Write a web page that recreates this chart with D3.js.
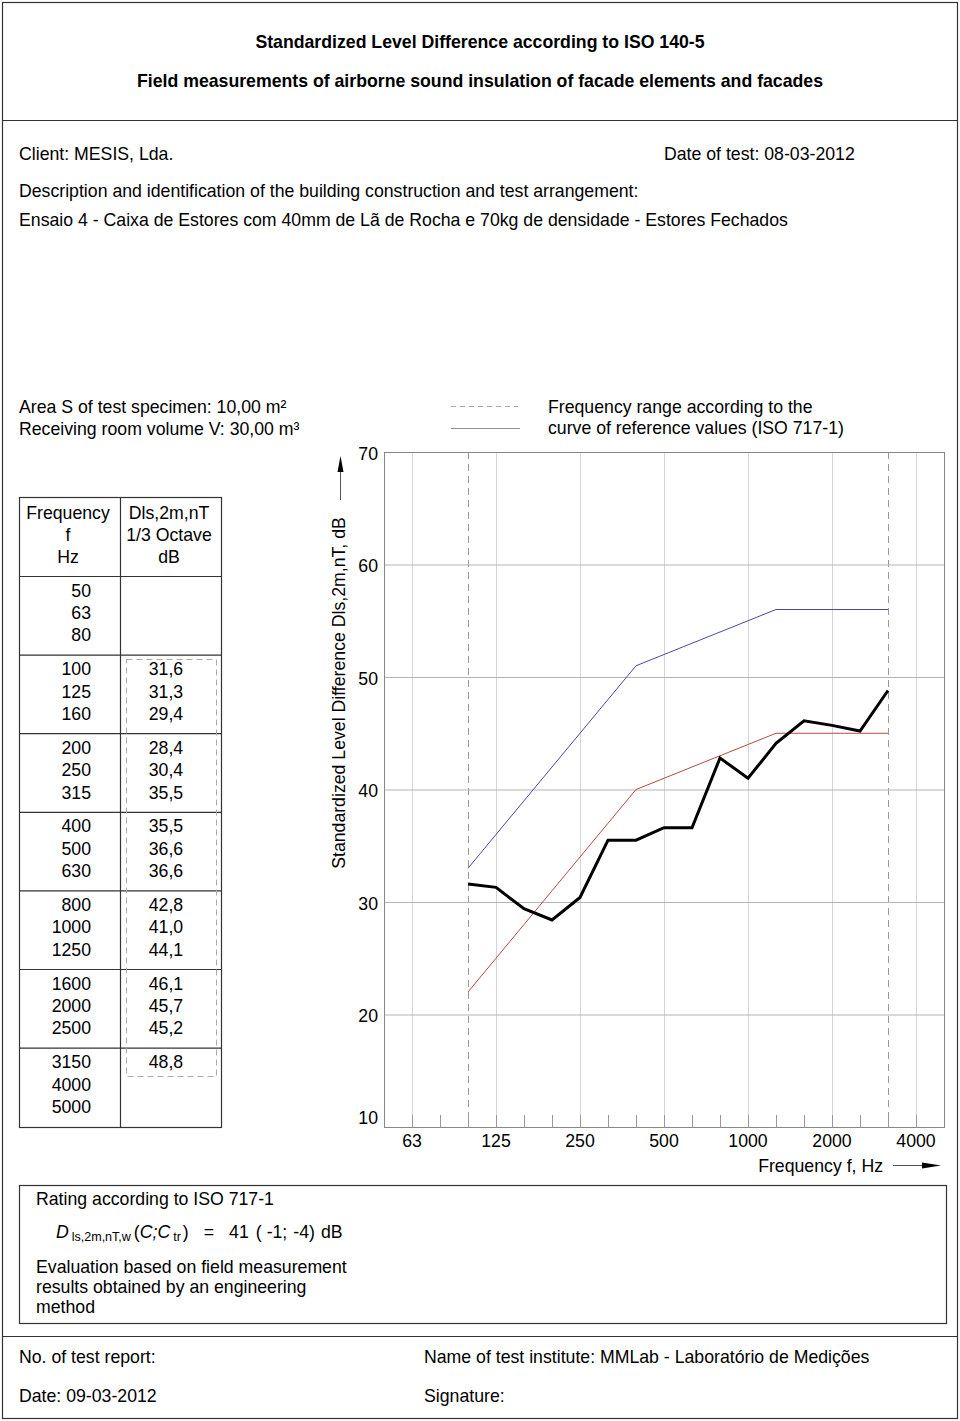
<!DOCTYPE html>
<html><head><meta charset="utf-8">
<script src="https://cdn.jsdelivr.net/npm/d3@7"></script>
<style>
html,body{margin:0;padding:0;background:#fff;}
svg{display:block;font-family:"Liberation Sans",Arial,sans-serif;}
</style></head>
<body>
<svg id="c" width="960" height="1421"></svg>
<script>
// ---------- data ----------
const bands = ["50","63","80","100","125","160","200","250","315","400","500","630","800","1000","1250","1600","2000","2500","3150","4000","5000"];
const measuredBands = ["100","125","160","200","250","315","400","500","630","800","1000","1250","1600","2000","2500","3150"];
const measured = [31.6,31.3,29.4,28.4,30.4,35.5,35.5,36.6,36.6,42.8,41.0,44.1,46.1,45.7,45.2,48.8];
const measuredLabels = ["31,6","31,3","29,4","28,4","30,4","35,5","35,5","36,6","36,6","42,8","41,0","44,1","46,1","45,7","45,2","48,8"];
const referenceCurve = [33,36,39,42,45,48,51,52,53,54,55,56,56,56,56,56];
const shiftedReference = [22,25,28,31,34,37,40,41,42,43,44,45,45,45,45,45];
const xTickLabels = ["63","125","250","500","1000","2000","4000"];
const rangeBands = ["100","3150"];
const yTicks = [10,20,30,40,50,60,70];

const svg = d3.select("#c");
const FS = 17.7;
const DY = 2;

// ---------- page frame ----------
const frame = "#333";
svg.append("rect").attr("x",2.5).attr("y",2.5).attr("width",955).attr("height",1416)
  .attr("fill","none").attr("stroke",frame).attr("stroke-width",1.2);
svg.append("line").attr("x1",2.5).attr("x2",957.5).attr("y1",120.5).attr("y2",120.5).attr("stroke",frame).attr("stroke-width",1.2);
svg.append("line").attr("x1",2.5).attr("x2",957.5).attr("y1",1336.5).attr("y2",1336.5).attr("stroke",frame).attr("stroke-width",1.2);

function txt(x,y,s,opts={}){
  const t = svg.append("text").attr("x",x).attr("y",y+DY).text(s)
    .attr("font-size",opts.size||FS).attr("fill","#000")
    .attr("dominant-baseline","middle");
  if(opts.anchor) t.attr("text-anchor",opts.anchor);
  if(opts.bold) t.attr("font-weight","bold");
  return t;
}
// header
txt(480,41,"Standardized Level Difference according to ISO 140-5",{anchor:"middle",bold:true});
txt(480,80,"Field measurements of airborne sound insulation of facade elements and facades",{anchor:"middle",bold:true});
txt(19,153,"Client: MESIS, Lda.");
txt(664,153,"Date of test: 08-03-2012");
txt(19,190,"Description and identification of the building construction and test arrangement:");
txt(19,219,"Ensaio 4 - Caixa de Estores com 40mm de Lã de Rocha e 70kg de densidade - Estores Fechados");
txt(19,406,"Area S of test specimen: 10,00 m²");
txt(19,428,"Receiving room volume V: 30,00 m³");
txt(548,406,"Frequency range according to the");
txt(548,427,"curve of reference values (ISO 717-1)");
svg.append("line").attr("x1",451).attr("x2",518).attr("y1",406.5).attr("y2",406.5)
  .attr("stroke","#aaa").attr("stroke-dasharray","5,4");
svg.append("line").attr("x1",451).attr("x2",520).attr("y1",428.5).attr("y2",428.5)
  .attr("stroke","#8890a8");

// ---------- chart ----------
const L=384, R=944, T=452, B=1127;
const x = d3.scalePoint().domain(bands).range([L,R]);
const y = d3.scaleLinear().domain([10,70]).range([B,T]);
const g = svg.append("g");

g.selectAll("line.vg").data(xTickLabels).enter().append("line")
  .attr("x1",d=>x(d)+0.5).attr("x2",d=>x(d)+0.5).attr("y1",T).attr("y2",B)
  .attr("stroke","#d4d4d4").attr("stroke-width",1);
g.selectAll("line.rg").data(rangeBands).enter().append("line")
  .attr("x1",d=>x(d)+0.5).attr("x2",d=>x(d)+0.5).attr("y1",T).attr("y2",B)
  .attr("stroke","#999").attr("stroke-dasharray","7,5");
g.selectAll("line.hg").data(yTicks).enter().append("line")
  .attr("x1",L).attr("x2",R).attr("y1",d=>y(d)+0.5).attr("y2",d=>y(d)+0.5)
  .attr("stroke","#b4b4b4").attr("stroke-width",1);
g.selectAll("line.bt").data(bands.slice(1,-1)).enter().append("line")
  .attr("x1",d=>x(d)+0.5).attr("x2",d=>x(d)+0.5).attr("y1",B-12).attr("y2",B)
  .attr("stroke","#999");
g.append("rect").attr("x",L+0.5).attr("y",T+0.5).attr("width",R-L).attr("height",B-T)
  .attr("fill","none").attr("stroke","#888").attr("stroke-width",1);

g.selectAll("text.yt").data(yTicks).enter().append("text")
  .attr("x",378).attr("y",d=>(d===10?y(d)-10:y(d)+1)+DY).attr("text-anchor","end")
  .attr("dominant-baseline","middle").attr("font-size",FS).text(d=>d);
g.selectAll("text.xt").data(xTickLabels).enter().append("text")
  .attr("x",d=>x(d)).attr("y",1140+DY).attr("text-anchor","middle")
  .attr("dominant-baseline","middle").attr("font-size",FS).text(d=>d);

svg.append("text").attr("transform","translate(340,693) rotate(-90)")
  .attr("text-anchor","middle").attr("dominant-baseline","middle")
  .attr("font-size",FS).text("Standardized Level Difference Dls,2m,nT, dB");
svg.append("line").attr("x1",340.5).attr("x2",340.5).attr("y1",500).attr("y2",470).attr("stroke","#555");
svg.append("path").attr("d","M337.5,472 L343.5,472 L340.5,456 Z").attr("fill","#000");
svg.append("text").attr("x",883).attr("y",1165+DY).attr("text-anchor","end")
  .attr("dominant-baseline","middle").attr("font-size",FS).text("Frequency f, Hz");
svg.append("line").attr("x1",893).attr("x2",925).attr("y1",1165.5).attr("y2",1165.5).attr("stroke","#555");
svg.append("path").attr("d","M922,1162.5 L922,1168.5 L941,1165.5 Z").attr("fill","#000");

const line = d3.line().x(d=>x(d[0])).y(d=>y(d[1]));
g.append("path").datum(measuredBands.map((b,i)=>[b,referenceCurve[i]]))
  .attr("d",line).attr("fill","none").attr("stroke","#4a4aa0").attr("stroke-width",1);
g.append("path").datum(measuredBands.map((b,i)=>[b,shiftedReference[i]]))
  .attr("d",line).attr("fill","none").attr("stroke","#b84848").attr("stroke-width",1);
g.append("path").datum(measuredBands.map((b,i)=>[b,measured[i]]))
  .attr("d",line).attr("fill","none").attr("stroke","#000").attr("stroke-width",3)
  .attr("stroke-linejoin","miter");

// ---------- table ----------
const tx0=19, tx1=120, tx2=221, ty0=497, tyH=576, rowH=78.6;
const groups = d3.range(7);
const tb = svg.append("g");
tb.append("rect").attr("x",tx0+0.5).attr("y",ty0+0.5).attr("width",tx2-tx0).attr("height",1127-ty0)
  .attr("fill","none").attr("stroke","#333").attr("stroke-width",1.2);
tb.append("line").attr("x1",tx1+0.5).attr("x2",tx1+0.5).attr("y1",ty0).attr("y2",1127).attr("stroke","#333").attr("stroke-width",1.2);
tb.selectAll("line.gr").data(groups).enter().append("line")
  .attr("x1",tx0).attr("x2",tx2).attr("y1",d=>tyH+d*rowH+0.5).attr("y2",d=>tyH+d*rowH+0.5)
  .attr("stroke","#333").attr("stroke-width",1.2);
[["Frequency","Dls,2m,nT"],["f","1/3 Octave"],["Hz","dB"]].forEach((r,i)=>{
  txt(68,512+i*22.3,r[0],{anchor:"middle"});
  txt(169,512+i*22.3,r[1],{anchor:"middle"});
});
const firstIdx = bands.indexOf(measuredBands[0]);
const rowY = i => tyH + Math.floor(i/3)*rowH + 14 + (i%3)*22.4 + DY;
tb.append("rect").attr("x",126.5).attr("y",659.5).attr("width",90).attr("height",417)
  .attr("fill","none").attr("stroke","#aaa").attr("stroke-dasharray","6,4");
tb.selectAll("text.f").data(bands).enter().append("text")
  .attr("x",91).attr("y",(d,i)=>rowY(i)).attr("text-anchor","end")
  .attr("dominant-baseline","middle").attr("font-size",FS).text(d=>d);
tb.selectAll("text.v").data(measuredLabels).enter().append("text")
  .attr("x",166).attr("y",(d,i)=>rowY(i+firstIdx)).attr("text-anchor","middle")
  .attr("dominant-baseline","middle").attr("font-size",FS).text(d=>d);

// ---------- rating box ----------
svg.append("rect").attr("x",19.5).attr("y",1185.5).attr("width",927).attr("height",138)
  .attr("fill","none").attr("stroke","#333").attr("stroke-width",1.2);
txt(36,1198,"Rating according to ISO 717-1");
const SUB = 12.5;
const f = svg.append("text").attr("x",56).attr("y",1233).attr("dominant-baseline","middle")
  .attr("font-size",FS);
f.append("tspan").attr("font-style","italic").text("D");
f.append("tspan").attr("font-size",SUB).attr("dx",3).attr("dy",5).text("ls,2m,nT,w");
f.append("tspan").attr("dx",3).attr("dy",-5).text("(");
f.append("tspan").attr("font-style","italic").text("C;C");
f.append("tspan").attr("font-size",SUB).attr("dx",3).attr("dy",5).text("tr");
f.append("tspan").attr("dx",2).attr("dy",-5).text(")");
f.append("tspan").attr("dx",15).text("=");
f.append("tspan").attr("dx",15).text("41");
f.append("tspan").attr("dx",7).text("(");
f.append("tspan").attr("dx",5).text("-1;");
f.append("tspan").attr("dx",6).text("-4)");
f.append("tspan").attr("dx",6).text("dB");
txt(36,1266,"Evaluation based on field measurement");
txt(36,1286,"results obtained by an engineering");
txt(36,1306,"method");

// footer
txt(19,1356,"No. of test report:");
txt(424,1356,"Name of test institute: MMLab - Laboratório de Medições");
txt(19,1395,"Date: 09-03-2012");
txt(424,1395,"Signature:");
</script>
</body></html>
